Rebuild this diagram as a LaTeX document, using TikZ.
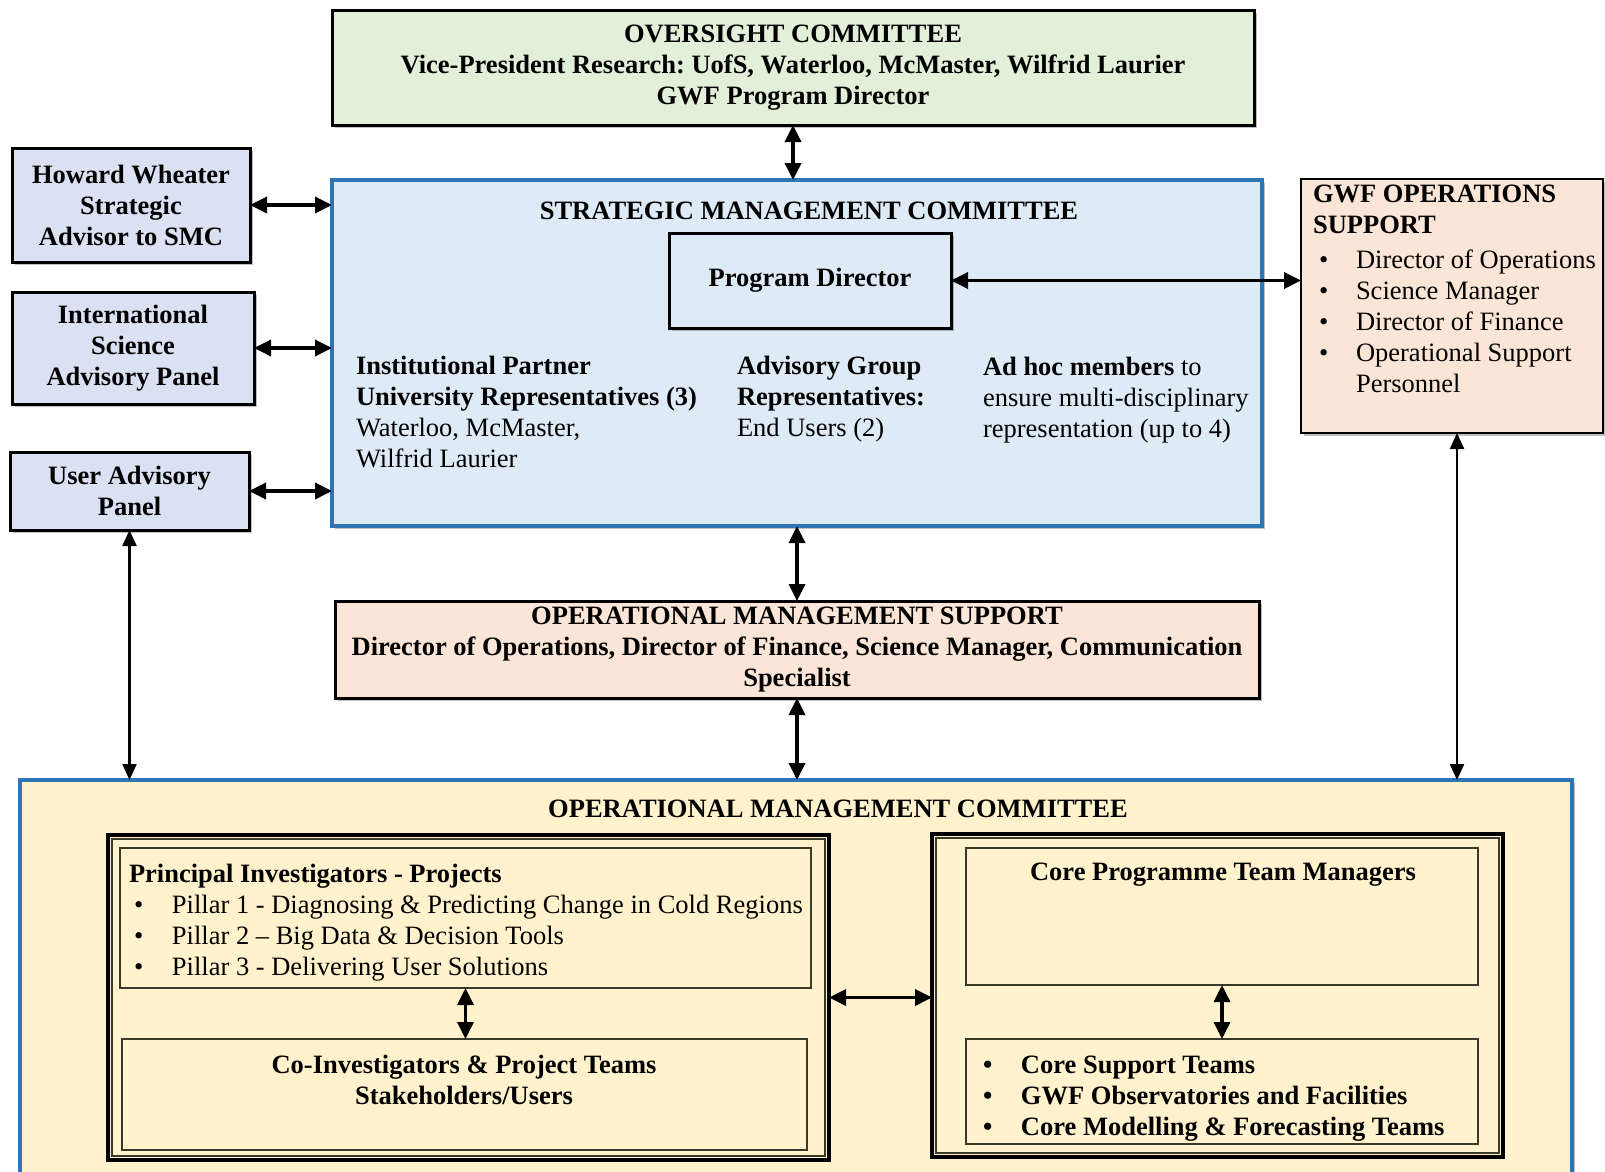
\documentclass[tikz,border=0pt]{standalone}
\usepackage{fontspec}
\setmainfont{Liberation Serif}
\usetikzlibrary{arrows.meta,shadows,calc}
\definecolor{ovfill}{HTML}{E2EFD9}
\definecolor{smcfill}{HTML}{DEEBF7}
\definecolor{bluebd}{HTML}{2E75B6}
\definecolor{lavfill}{HTML}{DAE1F2}
\definecolor{peach}{HTML}{FBE5D6}
\definecolor{cream}{HTML}{FFF2CC}
\definecolor{innerbd}{HTML}{3A3A2A}
\newcommand\fsz{\fontsize{26.5}{31}\selectfont}
\frenchspacing
\begin{document}
\begin{tikzpicture}[x=1pt,y=-1pt,
  rect/.style n args={4}{at={(#1,#2)}, anchor=north west, minimum width={#3-#1}, minimum height={#4-#2}, inner sep=0pt, outer sep=0pt},
  box/.style={draw=black, line width=3pt, font=\fsz\bfseries, align=center,
     drop shadow={shadow xshift=3pt, shadow yshift=-3pt, fill=black, opacity=0.25}},
  bluebox/.style={draw=bluebd, line width=3.5pt},
  thinbox/.style={draw=innerbd, line width=1.6pt},
  txt/.style={inner sep=0pt, outer sep=0pt, font=\fsz, align=left, anchor=north west},
  dbl/.style={{Triangle[length=17pt,width=16pt]}-{Triangle[length=17pt,width=16pt]}, line width=3.5pt},
  dblthin/.style={{Triangle[length=16pt,width=14pt]}-{Triangle[length=16pt,width=14pt]}, line width=2.2pt},
]
\useasboundingbox (0,0) rectangle (1605,1171);
\clip (0,0) rectangle (1605,1171);
\fill[white] (0,0) rectangle (1605,1171);

% top
\node[box, fill=ovfill, rect={332}{10}{1254}{125}] (over)
  {\frenchspacing OVERSIGHT COMMITTEE\\Vice-President Research: UofS, Waterloo, McMaster, Wilfrid Laurier\\GWF Program Director};

% SMC
\node[box, bluebox, fill=smcfill, rect={332}{180}{1262}{526}] (smc) {};
\node[txt, anchor=base, font=\fsz\bfseries] (smct) at (809,219) {STRATEGIC MANAGEMENT COMMITTEE};
\node[box, fill=smcfill, rect={669}{233}{951}{328}] (pd) {Program Director};
\node[txt] (inst) at (356,356) {\textbf{Institutional Partner}\\\textbf{University Representatives (3)}\\Waterloo, McMaster,\\Wilfrid Laurier};
\node[txt] (adv) at (737,356) {\textbf{Advisory Group}\\\textbf{Representatives:}\\End Users (2)};
\node[txt] (adhoc) at (983,357) {\textbf{Ad hoc members} to\\ensure multi-disciplinary\\representation (up to 4)};

% left panels
\node[box, fill=lavfill, rect={12}{148}{250}{262}] (howard) {Howard Wheater\\Strategic\\Advisor to SMC};
\node[box, fill=lavfill, rect={12}{292}{254}{404}] (isap) {International\\Science\\Advisory Panel};
\node[box, fill=lavfill, rect={10}{452}{249}{530}] (uap) {User Advisory\\Panel};

% GWF ops
\node[box, fill=peach, line width=2.5pt, rect={1301}{179}{1603}{433}] (gwf) {};
\node[txt, font=\fsz\bfseries] (gwft) at (1313,185) {GWF OPERATIONS\\SUPPORT};
\node[txt] (gwfl) at (1319,250) {\makebox[37pt][l]{•}Director of Operations\\\makebox[37pt][l]{•}Science Manager\\\makebox[37pt][l]{•}Director of Finance\\\makebox[37pt][l]{•}Operational Support\\\hspace*{37pt}Personnel};

% OMS
\node[box, fill=peach, rect={335}{601}{1259}{698}] (oms)
  {OPERATIONAL MANAGEMENT SUPPORT\\Director of Operations, Director of Finance, Science Manager, Communication\\Specialist};

% OMC
\node[box, bluebox, fill=cream, drop shadow={opacity=0}, rect={20}{780}{1572}{1190}] (omc) {};
\node[txt, anchor=base, font=\fsz\bfseries] (omct) at (838,817) {OPERATIONAL MANAGEMENT COMMITTEE};

\node[draw=black, line width=3.5pt, rect={108}{835}{829}{1160}] (lout) {};
\draw[innerbd, line width=1.2pt] ([shift={(4,4)}]lout.north west) rectangle ([shift={(-4,-4)}]lout.south east);
\node[draw=black, line width=3.5pt, rect={932}{834}{1503}{1157}] (rout) {};
\draw[innerbd, line width=1.2pt] ([shift={(4,4)}]rout.north west) rectangle ([shift={(-4,-4)}]rout.south east);

\node[thinbox, rect={120}{848}{811}{988}] (pi) {};
\node[txt] (pit) at (129,864) {\textbf{Principal Investigators - Projects}\\\hspace*{5pt}\makebox[38pt][l]{•}Pillar 1 - Diagnosing \& Predicting Change in Cold Regions\\\hspace*{5pt}\makebox[38pt][l]{•}Pillar 2 -- Big Data \& Decision Tools\\\hspace*{5pt}\makebox[38pt][l]{•}Pillar 3 - Delivering User Solutions};
\node[thinbox, rect={122}{1039}{807}{1150}] (coi) {};
\node[txt, anchor=center, align=center, font=\fsz\bfseries] (coit) at (464,1080) {Co-Investigators \& Project Teams\\Stakeholders/Users};

\node[thinbox, rect={966}{848}{1478}{985}] (cptm) {};
\node[txt, anchor=base, font=\fsz\bfseries] (cptmt) at (1223,880) {Core Programme Team Managers};
\node[thinbox, rect={966}{1039}{1478}{1144}] (cs) {};
\node[txt, font=\fsz\bfseries] (cst) at (983,1056) {\makebox[38pt][l]{•}Core Support Teams\\\makebox[38pt][l]{•}GWF Observatories and Facilities\\\makebox[38pt][l]{•}Core Modelling \& Forecasting Teams};

% connectors
\draw[dbl] (over.south) -- (over.south |- smc.north);
\draw[dbl] (howard.east) -- (howard.east -| smc.west);
\draw[dbl] (isap.east) -- (isap.east -| smc.west);
\draw[dbl] (uap.east) -- (uap.east -| smc.west);
\draw[dbl] (pd.east) -- (pd.east -| gwf.west);
\draw[dbl] (smc.south) -- (smc.south |- oms.north);
\draw[dbl] (oms.south) -- (oms.south |- omc.north);
\draw[dblthin] (uap.south) -- (uap.south |- omc.north);
\draw[dblthin] ([xshift=5pt]gwf.south) -- ([xshift=5pt]gwf.south |- omc.north);
\draw[dbl] (lout.east) -- (lout.east -| rout.west);
\draw[dbl] (pi.south) -- (pi.south |- coi.north);
\draw[dbl] (cptm.south) -- (cptm.south |- cs.north);
\end{tikzpicture}
\end{document}
